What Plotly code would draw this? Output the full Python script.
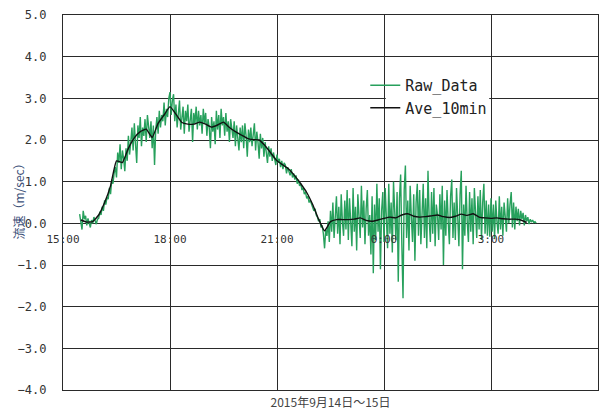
import pandas as pd
import plotly.graph_objects as go

# ---------------- data ----------------
raw_start = "2015-09-14 15:28"   # 2-minute samples
raw_step_min = 2
raw_speed = [
    # 15:28 - 15:58
    0.22, 0.05, -0.15, 0.30, 0.10, 0.18, -0.05, 0.12, 0.02, -0.10, 0.08, 0.00, 0.15, 0.03, -0.02, 0.10,
    # 16:00 - 16:58
    0.12, 0.28, 0.20, 0.40, 0.30, 0.55, 0.45, 0.62, 0.58, 0.85, 0.70, 1.05, 0.95, 1.20, 1.35,
    1.10, 1.70, 1.45, 1.90, 1.30, 1.75, 1.55, 1.25, 1.80, 1.50, 2.10, 1.65, 1.95, 2.30, 1.75,
    # 17:00 - 17:58
    2.40, 1.90, 1.45, 2.35, 2.05, 2.55, 1.85, 2.30, 2.10, 2.50, 1.95, 2.60, 2.20, 2.05, 2.45,
    1.80, 2.35, 1.40, 2.25, 2.55, 2.15, 2.70, 2.30, 2.60, 2.45, 2.90, 2.35, 2.75, 2.55, 3.00,
    # 18:00 - 18:58
    3.15, 2.60, 2.95, 3.10, 2.45, 2.85, 2.30, 2.70, 2.95, 2.25, 2.60, 2.80, 2.15, 2.70, 2.45,
    2.85, 2.20, 2.55, 2.75, 1.95, 2.65, 2.40, 2.80, 2.25, 2.70, 2.35, 2.60, 2.15, 2.75, 2.40,
    # 19:00 - 19:58
    2.65, 2.10, 2.50, 2.30, 1.80, 2.55, 2.20, 2.45, 1.90, 2.70, 2.25, 2.60, 2.05, 2.75, 2.35,
    2.55, 2.10, 2.65, 2.20, 2.45, 1.95, 2.50, 2.30, 2.05, 2.45, 1.85, 2.35, 2.10, 1.75, 2.30,
    # 20:00 - 20:58
    1.95, 2.35, 1.80, 2.40, 2.10, 1.60, 2.25, 1.95, 2.30, 1.85, 2.15, 2.40, 1.75, 2.20, 1.95,
    1.55, 2.15, 1.80, 2.05, 1.60, 1.95, 1.75, 1.45, 1.85, 1.60, 1.80, 1.50, 1.70, 1.55, 1.40,
    # 21:00 - 21:58
    1.65, 1.45, 1.55, 1.35, 1.50, 1.30, 1.45, 1.40, 1.20, 1.35, 1.25, 1.15, 1.30, 1.10, 1.20,
    1.05, 1.15, 0.95, 1.05, 0.90, 0.95, 0.80, 0.85, 0.70, 0.75, 0.60, 0.65, 0.50, 0.55, 0.45,
    # 22:00 - 22:58
    0.40, 0.30, 0.35, 0.20, 0.15, 0.05, 0.10, -0.10, -0.05, -0.25, -0.60, -0.15, -0.30, 0.05, -0.45,
    0.30, -0.20, 0.50, -0.35, 0.15, 0.65, -0.25, 0.40, -0.50, 0.70, 0.05, -0.30, 0.55, -0.15, 0.80,
    # 23:00 - 23:58
    -0.40, 0.60, 0.15, -0.55, 0.85, -0.20, 0.40, -0.65, 0.70, 0.10, -0.35, 0.90, -0.10, 0.55, -0.50,
    0.35, 0.80, -0.30, 0.20, -0.75, 0.65, -1.20, 0.45, -0.40, 0.95, -0.20, 0.60, -1.10, 0.30, 0.75,
    # 0:00 - 0:58
    -0.45, 0.85, 0.05, -0.60, 0.95, -0.25, 0.50, -0.70, 1.00, 0.20, -0.40, 0.75, -1.40, 0.60, 1.17,
    -0.50, -1.80, 0.80, 1.39, -0.35, 0.55, -0.65, 0.90, 0.15, -0.45, 0.70, -0.90, 0.50, 0.95, -0.30,
    # 1:00 - 1:58
    0.80, -0.50, 0.40, 0.95, -0.35, 0.60, -0.60, 1.26, 0.10, -0.45, 0.75, -0.25, 0.85, -0.55, 0.45,
    0.20, -0.40, 0.70, -0.15, 0.90, -1.00, 0.55, -0.30, 0.80, 0.05, -0.50, 0.65, 1.05, -0.35, 0.50,
    # 2:00 - 2:58
    -0.40, 0.85, 0.15, -0.55, 0.70, 1.26, -1.10, 0.45, -0.30, 0.90, 0.05, -0.45, 0.75, -0.20, 0.60,
    -0.50, 0.85, 0.10, -0.35, 0.65, -0.15, 0.80, -0.40, 0.50, 0.95, -0.25, 0.55, -0.30, 0.45, -0.32,
    # 3:00 - 3:58
    0.60, -0.20, 0.45, -0.35, 0.55, 0.05, -0.25, 0.65, -0.15, 0.40, -0.30, 0.50, 0.10, -0.20, 0.60,
    0.00, 0.45, 0.75, -0.10, 0.50, -0.15, 0.40, 0.05, 0.35, -0.05, 0.30, 0.10, 0.25, -0.05, 0.20,
    # 4:00 - 4:16
    0.05, 0.15, -0.02, 0.10, 0.03, 0.08, 0.02, 0.04, 0.01,
]

ave_start = "2015-09-14 15:30"   # 10-minute averages
ave_step_min = 10
ave_10min = [
    # 15:30 - 15:50
    0.08, 0.03, 0.04,
    # 16:00 - 16:50
    0.20, 0.50, 0.90, 1.50, 1.46, 1.80,
    # 17:00 - 17:50
    2.05, 2.20, 2.26, 2.06, 2.40, 2.60,
    # 18:00 - 18:50
    2.80, 2.62, 2.42, 2.38, 2.38, 2.43,
    # 19:00 - 19:50
    2.38, 2.31, 2.36, 2.43, 2.30, 2.20,
    # 20:00 - 20:50
    2.12, 2.04, 2.01, 2.00, 1.86, 1.68,
    # 21:00 - 21:50
    1.50, 1.40, 1.30, 1.14, 0.95, 0.74,
    # 22:00 - 22:50
    0.45, 0.10, -0.18, 0.04, 0.09, 0.09,
    # 23:00 - 23:50
    0.09, 0.10, 0.13, 0.07, 0.05, 0.08,
    # 0:00 - 0:50
    0.12, 0.15, 0.13, 0.20, 0.23, 0.17,
    # 1:00 - 1:50
    0.15, 0.16, 0.18, 0.20, 0.16, 0.14,
    # 2:00 - 2:50
    0.17, 0.22, 0.19, 0.23, 0.15, 0.13,
    # 3:00 - 3:50
    0.12, 0.13, 0.11, 0.10, 0.10, 0.08,
    # 4:00
    0.02,
]

x_tick_vals = ["2015-09-14 15:00", "2015-09-14 18:00", "2015-09-14 21:00",
               "2015-09-15 00:00", "2015-09-15 03:00", "2015-09-15 06:00"]
x_tick_text = ["15:00", "18:00", "21:00", "0:00", "3:00", "6:00"]
y_tick_vals = [5, 4, 3, 2, 1, 0, -1, -2, -3, -4]
x_range = ["2015-09-14 15:00", "2015-09-15 06:00"]
y_range = [-4, 5]
x_title = "2015年9月14日～15日"
y_title = "流速（m/sec）"

raw_time = pd.date_range(raw_start, periods=len(raw_speed), freq=f"{raw_step_min}min")
ave_time = pd.date_range(ave_start, periods=len(ave_10min), freq=f"{ave_step_min}min")

GRID = "#2a2a2a"
MONO = "DejaVu Sans Mono"
CJK = "Noto Sans CJK JP"

fig = go.Figure()
fig.add_trace(go.Scatter(
    x=raw_time, y=raw_speed, mode="lines", name="Raw_Data",
    line=dict(color="#27a05c", width=1.4),
))
fig.add_trace(go.Scatter(
    x=ave_time, y=ave_10min, mode="lines", name="Ave_10min", xaxis="x2",
    line=dict(color="#111111", width=1.4, shape="spline", smoothing=0.4),
))

# white backing behind the legend (hides the 3.0 gridline there)
fig.add_shape(type="rect", xref="x", yref="y",
              x0="2015-09-15 00:03", x1="2015-09-15 02:57", y0=2.05, y1=3.95,
              fillcolor="white", line=dict(width=0), layer="above")

# y-axis title, placed at the far left edge
fig.add_annotation(text=y_title, xref="paper", yref="paper", x=0, y=0.5,
                   xanchor="center", yanchor="middle", xshift=-45, yshift=4,
                   textangle=-90, showarrow=False,
                   font=dict(family=CJK, size=12, color="#3b4f78"))

# the page places the figure 8px in from the window's top-left corner
fig.update_layout(
    width=601, height=404,
    margin=dict(l=55, r=11, t=7, b=22),
    paper_bgcolor="white", plot_bgcolor="white",
    showlegend=True,
    legend=dict(x=0.565, y=0.856, xanchor="left", yanchor="top",
                bgcolor="rgba(0,0,0,0)", borderwidth=0,
                font=dict(family=MONO, size=15, color="#222"),
                tracegroupgap=0),
    xaxis=dict(
        type="date", range=x_range,
        tickvals=x_tick_vals, showticklabels=False, ticks="",
        showgrid=True, gridcolor=GRID, gridwidth=1.3,
        showline=True, linecolor=GRID, linewidth=1.3, mirror=True,
        zeroline=False, automargin=False,
        title=dict(text=x_title, standoff=8,
                   font=dict(family=CJK, size=12, color="#444")),
    ),
    xaxis2=dict(
        type="date", overlaying="x", matches="x", anchor="free",
        position=4 / 9, side="bottom",
        tickvals=x_tick_vals, ticktext=x_tick_text, ticks="",
        ticklabelstandoff=8,
        tickfont=dict(family=MONO, size=11, color="#333"),
        showgrid=False, showline=False, zeroline=False, automargin=False,
    ),
    yaxis=dict(
        range=y_range, tickvals=y_tick_vals, tickformat=".1f", ticks="",
        ticklabelstandoff=13, ticklabeloverflow="allow",
        tickfont=dict(family=MONO, size=12, color="#333"),
        showgrid=True, gridcolor=GRID, gridwidth=1.3,
        zeroline=True, zerolinecolor=GRID, zerolinewidth=1.3,
        showline=True, linecolor=GRID, linewidth=1.3, mirror=True,
        automargin=False,
    ),
)

fig.write_html("out.html")
